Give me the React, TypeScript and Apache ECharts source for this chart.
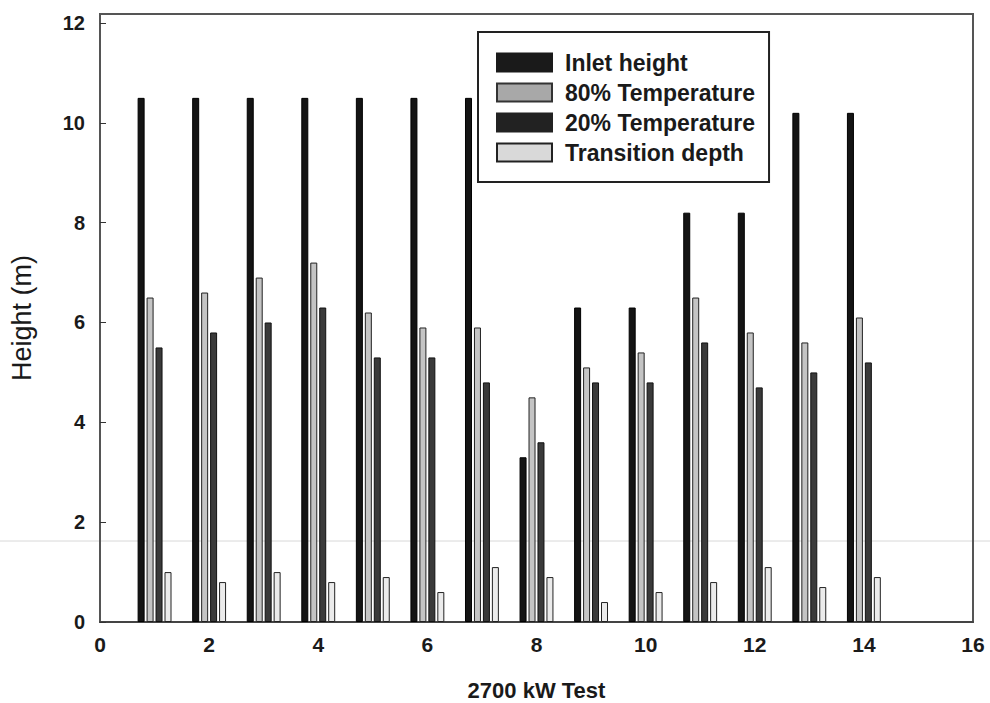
import React, { useEffect, useRef } from "react";
import * as echarts from "echarts";

const tests = [1, 2, 3, 4, 5, 6, 7, 8, 9, 10, 11, 12, 13, 14];
const inletHeight = [10.5, 10.5, 10.5, 10.5, 10.5, 10.5, 10.5, 3.3, 6.3, 6.3, 8.2, 8.2, 10.2, 10.2];
const temp80 = [6.5, 6.6, 6.9, 7.2, 6.2, 5.9, 5.9, 4.5, 5.1, 5.4, 6.5, 5.8, 5.6, 6.1];
const temp20 = [5.5, 5.8, 6.0, 6.3, 5.3, 5.3, 4.8, 3.6, 4.8, 4.8, 5.6, 4.7, 5.0, 5.2];
const transitionDepth = [1.0, 0.8, 1.0, 0.8, 0.9, 0.6, 1.1, 0.9, 0.4, 0.6, 0.8, 1.1, 0.7, 0.9];
const xTicks = [0, 2, 4, 6, 8, 10, 12, 14, 16];
const yTicks = [0, 2, 4, 6, 8, 10, 12];

const FONT = "'Liberation Sans', Arial, sans-serif";

export default function App() {
  const ref = useRef<HTMLDivElement>(null);
  useEffect(() => {
    if (!ref.current) return;
    const chart = echarts.init(ref.current, null, { renderer: "svg" });
    const mk = (vals: number[]) => tests.map((t, i) => [t, vals[i]]);
    const series = [
      { name: "Inlet height", data: mk(inletHeight), color: "#141414", border: "#000000" },
      { name: "80% Temperature", data: mk(temp80), color: "#c4c4c4", border: "#222222" },
      { name: "20% Temperature", data: mk(temp20), color: "#3a3a3a", border: "#111111" },
      { name: "Transition depth", data: mk(transitionDepth), color: "#ebebeb", border: "#222222" },
    ].map((s) => ({
      type: "bar",
      name: s.name,
      data: s.data,
      barWidth: 7,
      barGap: "28%",
      itemStyle: { color: s.color, borderColor: s.border, borderWidth: 1 },
    }));
    chart.setOption({
      animation: false,
      backgroundColor: "#ffffff",
      textStyle: { fontFamily: FONT },
      grid: {
        left: 100,
        right: 17,
        top: 14,
        bottom: 81,
        containLabel: false,
        outerBoundsMode: "none",
        show: true,
        borderColor: "#555555",
        borderWidth: 2,
        backgroundColor: "transparent",
      },
      legend: {
        left: 478,
        top: 32,
        orient: "vertical",
        icon: "rect",
        padding: [19, 14, 18, 18],
        itemWidth: 55,
        itemHeight: 18,
        itemGap: 7,
        borderColor: "#222222",
        borderWidth: 2,
        backgroundColor: "#ffffff",
        textStyle: { fontFamily: FONT, fontSize: 23, fontWeight: "bold", color: "#1a1a1a", padding: [0, 0, 0, 8] },
        data: [
          { name: "Inlet height", itemStyle: { color: "#1a1a1a", borderColor: "#1a1a1a" } },
          { name: "80% Temperature", itemStyle: { color: "#a8a8a8", borderColor: "#333333", borderWidth: 2 } },
          { name: "20% Temperature", itemStyle: { color: "#222222", borderColor: "#222222" } },
          { name: "Transition depth", itemStyle: { color: "#d9d9d9", borderColor: "#222222", borderWidth: 2 } },
        ],
      },
      xAxis: {
        type: "value",
        min: xTicks[0],
        max: xTicks[xTicks.length - 1],
        interval: 2,
        name: "2700 kW Test",
        nameLocation: "middle",
        nameGap: 57,
        nameTextStyle: { fontFamily: FONT, fontSize: 22, fontWeight: "bold", color: "#1a1a1a" },
        axisLine: { lineStyle: { color: "#444444", width: 2 } },
        axisTick: { show: false },
        splitLine: { show: false },
        axisLabel: {
          fontFamily: FONT,
          fontSize: 21,
          fontWeight: "bold",
          margin: 12,
          color: (v: number) => (v === 16 ? "#8a8a8a" : "#1a1a1a"),
        },
      },
      yAxis: {
        type: "value",
        min: yTicks[0],
        max: 12.18,
        interval: 2,
        name: "Height (m)",
        nameLocation: "middle",
        nameGap: 65,
        nameRotate: 90,
        nameTextStyle: { fontFamily: FONT, fontSize: 27, color: "#1a1a1a" },
        axisLine: { lineStyle: { color: "#555555", width: 2 } },
        axisTick: { inside: true, length: 6, lineStyle: { color: "#333333" } },
        splitLine: { show: false },
        axisLabel: {
          fontFamily: FONT,
          fontSize: 20,
          fontWeight: "bold",
          margin: 15,
          color: "#1a1a1a",
          showMaxLabel: false,
          formatter: (v: number) => (yTicks.includes(v) ? String(v) : ""),
        },
      },
      graphic: [
        {
          type: "line",
          z: -1,
          shape: { x1: 0, y1: 541, x2: 990, y2: 541 },
          style: { stroke: "#d8d8d8", lineWidth: 1 },
        },
      ],
      series,
    });
    return () => chart.dispose();
  }, []);
  return (
    <div
      ref={ref}
      style={{ position: "fixed", left: 0, top: 0, width: 990, height: 703 }}
    />
  );
}
